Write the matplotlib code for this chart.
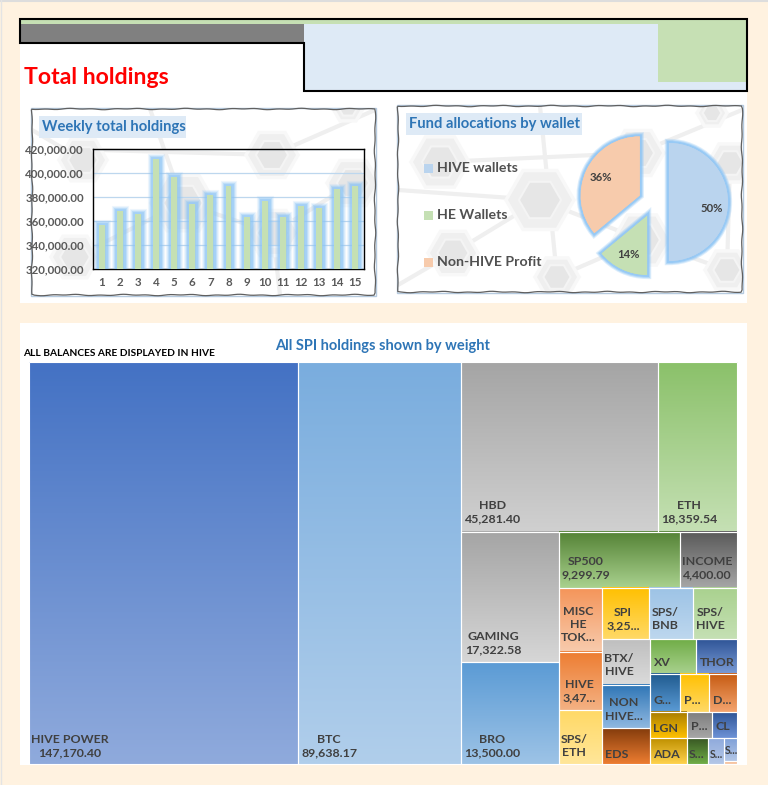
import numpy as np
import matplotlib
matplotlib.use("Agg")
import matplotlib.pyplot as plt
from matplotlib.colors import to_rgb
from matplotlib.patches import Rectangle, Polygon
from matplotlib.patheffects import withStroke, Normal

plt.rcParams['font.family'] = ['Lato', 'DejaVu Sans']
plt.rcParams['font.weight'] = 'bold'

# ---------- data ----------
weeks = list(range(1, 16))
weekly_holdings = [356700, 368300, 366000, 412000, 396700, 374400, 382000, 388900,
                   363300, 377000, 363300, 372200, 371100, 387000, 389400]
y_ticks = [320000, 340000, 360000, 380000, 400000, 420000]

wallets = ['HIVE wallets', 'HE Wallets', 'Non-HIVE Profit']
wallet_share = [50, 14, 36]

cell_keys = ['HIVEPOWER', 'BTC', 'HBD', 'ETH', 'GAMING', 'BRO', 'SP500', 'INCOME', 'MISC', 'HIVE', 'SPSETH',
             'SPI', 'SPSBNB', 'SPSHIVE', 'BTX', 'NON', 'EDS', 'XV', 'THOR', 'G', 'P1', 'D', 'LGN', 'ADA',
             'P2', 'CL', 'S1', 'S2', 'S3', 'S4']
cell_values = [147170.40, 89638.17, 45281.40, 18359.54, 17322.58, 13500.00, 9299.79, 4400.00, 3743, 3470, 3158,
               3255, 3100, 3050, 3000, 2870, 2350, 2142, 1950, 1550, 1500, 1447, 1308, 1270,
               884, 884, 742, 566, 406, 53]
cell_labels = ['HIVE POWER\n147,170.40', 'BTC\n89,638.17', 'HBD\n45,281.40', 'ETH\n18,359.54', 'GAMING\n17,322.58',
               'BRO\n13,500.00', 'SP500\n9,299.79', 'INCOME\n4,400.00', 'MISC\nHE\nTOK...', 'HIVE\n3,47...',
               'SPS/\nETH', 'SPI\n3,25...', 'SPS/\nBNB', 'SPS/\nHIVE', 'BTX/\nHIVE', 'NON\nHIVE...', 'EDS', 'XV',
               'THOR', 'G...', 'P...', 'D...', 'LGN', 'ADA', 'P...', 'CL', 'S...', 'S...', 'S...', '']

# nested split of the treemap: 'h' = side by side, 'v' = stacked
tree = ('h', ['HIVEPOWER', 'BTC',
    ('v', [('h', ['HBD', 'ETH']),
           ('h', [('v', ['GAMING', 'BRO']),
                  ('v', [('h', ['SP500', 'INCOME']),
                         ('h', [('v', ['MISC', 'HIVE', 'SPSETH']),
                                ('v', [('h', ['SPI', 'SPSBNB', 'SPSHIVE']),
                                       ('h', [('v', ['BTX', 'NON', 'EDS']),
                                              ('v', [('h', ['XV', 'THOR']),
                                                     ('h', ['G', 'P1', 'D']),
                                                     ('h', [('v', ['LGN', 'ADA']),
                                                            ('v', [('h', ['P2', 'CL']),
                                                                   ('h', ['S1', 'S2', ('v', ['S3', 'S4'])])])])])])])])])])])])

# ---------- styles ----------
cell_colors = {
    'HIVEPOWER': ('#4472C4', '#8FAADC'), 'BTC': ('#7AADDE', '#B0CEEB'), 'HBD': ('#A5A5A5', '#D0D0D0'),
    'ETH': ('#8BC16A', '#C5E0B4'), 'GAMING': ('#A5A5A5', '#D6D6D6'), 'BRO': ('#5B9BD5', '#9DC3E6'),
    'SP500': ('#548235', '#A9D18E'), 'INCOME': ('#595959', '#A6A6A6'), 'MISC': ('#F4955A', '#F8CBAD'),
    'HIVE': ('#ED7D31', '#F4B183'), 'SPSETH': ('#FFD966', '#FFE699'), 'SPI': ('#FFC000', '#FFD966'),
    'SPSBNB': ('#9DC3E6', '#BDD7EE'), 'SPSHIVE': ('#A9D18E', '#C5E0B4'), 'BTX': ('#BFBFBF', '#DBDBDB'),
    'NON': ('#2E75B6', '#8FB8E0'), 'EDS': ('#843C0C', '#ED7D31'), 'XV': ('#70AD47', '#A9D18E'),
    'THOR': ('#2F5597', '#7A9BD6'), 'G': ('#1F5A8E', '#5B9BD5'), 'P1': ('#FFC000', '#FFD966'),
    'D': ('#C55A11', '#F4A46E'), 'LGN': ('#A67C00', '#FFC000'), 'ADA': ('#BF9000', '#FFD24D'),
    'P2': ('#7F7F7F', '#A6A6A6'), 'CL': ('#2F5597', '#6D92D6'), 'S1': ('#385723', '#70AD47'),
    'S2': ('#8FAADC', '#B4C7E7'), 'S3': ('#7FA0D8', '#B4C7E7'), 'S4': ('#F4B183', '#F8CBAD'),
}
label_pos = {
    'HIVEPOWER': (69.5, 746), 'BTC': (329, 746), 'HBD': (493, 512), 'ETH': (689, 512), 'GAMING': (493, 643.5),
    'BRO': (492, 746), 'SP500': (585.5, 568), 'INCOME': (707.5, 568), 'MISC': (578, 624.5), 'HIVE': (579, 691),
    'SPSETH': (574, 746), 'SPI': (623, 619), 'SPSBNB': (665, 619), 'SPSHIVE': (710, 619), 'BTX': (619, 665),
    'NON': (624, 709.5), 'EDS': (617, 754), 'XV': (662, 663), 'THOR': (717, 663), 'G': (662, 700), 'P1': (692, 700),
    'D': (722, 700), 'LGN': (665, 728), 'ADA': (666, 754), 'P2': (699, 726), 'CL': (723, 726), 'S1': (697, 754),
    'S2': (716, 754), 'S3': (731, 750),
}
small_labels = {'S2', 'S3'}
W, H = 768, 785
TEXT = '#404040'
BLUE = '#2E75B6'
TITLE_BG = '#DEEAF6'
GLOW = '#8CC4F5'

fig = plt.figure(figsize=(W / 100, H / 100), dpi=100, facecolor='#FFF2E0')
bg = fig.add_axes([0, 0, 1, 1])
bg.set_xlim(0, W); bg.set_ylim(H, 0); bg.axis('off'); bg.set_autoscale_on(False)


def rect(x0, y0, x1, y1, color, z=1, **kw):
    bg.add_patch(Rectangle((x0, y0), x1 - x0, y1 - y0, facecolor=color, edgecolor='none', zorder=z, **kw))


def axes_px(x0, y0, x1, y1, **kw):
    return fig.add_axes([x0 / W, 1 - y1 / H, (x1 - x0) / W, (y1 - y0) / H], **kw)


# page
bg.plot([0, W], [0.5, 0.5], color='#DDDDDD', lw=1.5, zorder=1)
bg.plot([0.5, 0.5], [0, H], color='#E4E4E4', lw=1, zorder=1)
rect(20, 43, 747, 303, 'white')
rect(20, 323, 747, 765, 'white')

# header block
rect(20, 19, 747, 24, '#C6E0B4')
rect(21, 24, 304, 43, '#808080')
rect(304, 24, 746, 91, TITLE_BG)
rect(658, 24, 746, 82, '#C6E0B4')
bg.add_patch(Polygon([(20, 19), (747, 19), (747, 91), (304, 91), (304, 43), (20, 43)], closed=True,
                     fill=False, edgecolor='black', lw=1.5, zorder=3))
bg.text(24, 78, 'Total holdings', color='red', fontsize=16.6, va='center', ha='left', zorder=4)


# textured chart panels
def hexagon(cx, cy, r, clip):
    ang = np.deg2rad(np.arange(0, 360, 60))
    pts = np.c_[cx + r * np.cos(ang), cy + r * np.sin(ang)]
    p = Polygon(pts, closed=True, facecolor='#EFEFEF', edgecolor='#F8F8F8', lw=2.5, zorder=2.2)
    bg.add_patch(p); p.set_clip_path(clip)
    q = Polygon(np.c_[cx + .62 * r * np.cos(ang), cy + .62 * r * np.sin(ang)], closed=True,
                facecolor='#E6E6E6', edgecolor='#F4F4F4', lw=1.5, zorder=2.3)
    bg.add_patch(q); q.set_clip_path(clip)


def panel(x0, y0, x1, y1, hexes, links):
    clip = Rectangle((x0, y0), x1 - x0, y1 - y0, transform=bg.transData)
    rect(x0, y0, x1, y1, 'white', z=2)
    for (a, b, c, d) in links:
        l, = bg.plot([a, c], [b, d], color='#EFEFEF', lw=3, zorder=2.1)
        l.set_clip_path(clip)
    for h in hexes:
        hexagon(*h, clip)
    # hand-drawn looking frame
    t = np.arange(0, 1, 0.003)
    w_, h_ = x1 - x0, y1 - y0
    s = t * 2 * (w_ + h_)
    xs, ys = [], []
    for si in s:
        if si < w_:
            xs.append(x0 + si); ys.append(y0)
        elif si < w_ + h_:
            xs.append(x1); ys.append(y0 + si - w_)
        elif si < 2 * w_ + h_:
            xs.append(x1 - (si - w_ - h_)); ys.append(y1)
        else:
            xs.append(x0); ys.append(y1 - (si - 2 * w_ - h_))
    wob = 0.4 * np.sin(s / 9) + 0.35 * np.sin(s / 3.7 + 1)
    xs = np.array(xs); ys = np.array(ys)
    on_h = (s < w_) | ((s >= w_ + h_) & (s < 2 * w_ + h_))
    xs = xs + np.where(on_h, 0, wob)
    ys = ys + np.where(on_h, wob, 0)
    bg.add_patch(Rectangle((x0 - 0.8, y0 - 0.8), w_ + 1.6, h_ + 1.6, fill=False, edgecolor='#B5CADF', lw=1.0, zorder=2.5))
    bg.fill(np.r_[xs, xs[0]], np.r_[ys, ys[0]], fill=False, edgecolor='#606060', lw=0.9, zorder=2.6)


panel(32, 109, 375, 295,
      [(83, 160, 24), (183, 203, 32), (272, 155, 26), (75, 257, 24), (273, 233, 26), (353, 183, 26), (348, 107, 16)],
      [(32, 130, 83, 160), (100, 150, 272, 155), (183, 203, 273, 233), (75, 257, 183, 203), (272, 155, 375, 110),
       (273, 233, 353, 183), (273, 233, 280, 295), (150, 109, 183, 203)])
panel(398, 106, 742, 292,
      [(440, 162, 29), (540, 200, 34), (453, 253, 25), (638, 153, 26), (642, 240, 29), (557, 277, 22),
       (730, 163, 22), (727, 270, 22), (712, 113, 15)],
      [(398, 190, 540, 200), (440, 162, 638, 153), (453, 253, 540, 200), (540, 200, 642, 240), (638, 153, 742, 110),
       (557, 277, 642, 240), (642, 240, 727, 270), (453, 253, 398, 285), (540, 106, 557, 277), (730, 163, 727, 270)])

# ---------- weekly bar chart ----------
ax = axes_px(93, 149, 364, 269, facecolor='none')
bars = ax.bar(weeks, weekly_holdings, width=0.33, color='#C5E0B4', zorder=3)
for b in bars:
    b.set_path_effects([withStroke(linewidth=w, foreground=GLOW, alpha=a)
                        for w, a in [(8, .14), (6.5, .22), (5, .35), (3.5, .5)]] + [Normal()])
ax.set_xlim(0.5, 15.5)
ax.set_ylim(y_ticks[0], y_ticks[-1])
ax.set_yticks(y_ticks)
ax.set_yticklabels([f'{v:,.2f}' for v in y_ticks])
ax.set_xticks(weeks)
ax.tick_params(length=0, labelsize=8.3, labelcolor='#595959')
ax.tick_params(axis='y', pad=6.5)
ax.tick_params(axis='x', pad=6)
ax.grid(axis='y', color='#BDD7EE', lw=0.9, zorder=1)
ax.set_axisbelow(True)
for sp in ax.spines.values():
    sp.set_color('black'); sp.set_linewidth(1)
rect(39, 116, 186, 138, TITLE_BG, z=3)
bg.text(42, 127, 'Weekly total holdings', color=BLUE, fontsize=10.6, va='center', ha='left', zorder=4)

# ---------- pie ----------
pie_colors = ['#BAD4EE', '#C5E0B4', '#F7CBAC']
R_PX = 59
PIE_C = (653.6, 202)
HALF = 90
pa = axes_px(PIE_C[0] - HALF, PIE_C[1] - HALF, PIE_C[0] + HALF, PIE_C[1] + HALF, facecolor='none')
wedges, _, auts = pa.pie(wallet_share, colors=pie_colors, startangle=90, counterclock=False,
                         explode=[0.26] * 3, radius=1, autopct='%d%%', pctdistance=0.73,
                         textprops={'fontsize': 8.2, 'color': TEXT}, frame=False)
for wd in wedges:
    wd.set_path_effects([withStroke(linewidth=w, foreground=GLOW, alpha=a)
                         for w, a in [(6, .3), (4.5, .45), (3, .7)]] + [Normal()])
    wd.set_clip_on(False)
pa.set_xlim(-HALF / R_PX, HALF / R_PX)
pa.set_ylim(-HALF / R_PX, HALF / R_PX)
pa.set_aspect('equal')
pa.axis('off')
px, py = auts[0].get_position()
auts[0].set_position((px, py - 7 / R_PX))

rect(406, 113, 582, 135, TITLE_BG, z=3)
bg.text(409, 124, 'Fund allocations by wallet', color=BLUE, fontsize=10.6, va='center', ha='left', zorder=4)
for name, col, yy in zip(wallets, pie_colors, [168, 215, 262]):
    rect(424, yy - 4.5, 433, yy + 4.5, col, z=4)
    bg.text(437, yy, name, color='#505050', fontsize=10.2, va='center', ha='left', zorder=4)

# ---------- treemap ----------
bg.text(382.5, 346, 'All SPI holdings shown by weight', color=BLUE, fontsize=10.5, va='center', ha='center', zorder=4)
bg.text(23, 354, 'ALL BALANCES ARE DISPLAYED IN HIVE', color='black', fontsize=7.3, va='center', ha='left', zorder=4)

by_key = dict(zip(cell_keys, cell_values))
lab_by_key = dict(zip(cell_keys, cell_labels))


def weight(n):
    return by_key[n] if isinstance(n, str) else sum(weight(c) for c in n[1])


def layout(node, x0, y0, x1, y1, out):
    if isinstance(node, str):
        out[node] = (x0, y0, x1, y1)
        return
    orient, kids = node
    total = sum(weight(k) for k in kids)
    pos = x0 if orient == 'h' else y0
    span = (x1 - x0) if orient == 'h' else (y1 - y0)
    for k in kids:
        step = span * weight(k) / total
        if orient == 'h':
            layout(k, pos, y0, pos + step, y1, out)
        else:
            layout(k, x0, pos, x1, pos + step, out)
        pos += step


cells = {}
layout(tree, 29, 362, 737, 764, cells)
for key, (x0, y0, x1, y1) in cells.items():
    c0, c1 = map(np.array, map(to_rgb, cell_colors[key]))
    f = np.linspace(0, 1, 64)[:, None, None]
    grad = c0[None, None, :] * (1 - f) + c1[None, None, :] * f
    bg.imshow(grad, extent=(x0, x1, y1, y0), aspect='auto', zorder=5, interpolation='bilinear')
    bg.add_patch(Rectangle((x0, y0), x1 - x0, y1 - y0, fill=False, edgecolor='white', lw=0.8, zorder=6))
    txt = lab_by_key[key]
    if txt:
        lx, ly = label_pos[key]
        bg.text(lx, ly, txt, color=TEXT, fontsize=7.6 if key in small_labels else 8.9,
                ha='center', va='center', linespacing=1.24, zorder=7)
bg.set_xlim(0, W); bg.set_ylim(H, 0)

fig.savefig('out.png', dpi=100, facecolor=fig.get_facecolor())
